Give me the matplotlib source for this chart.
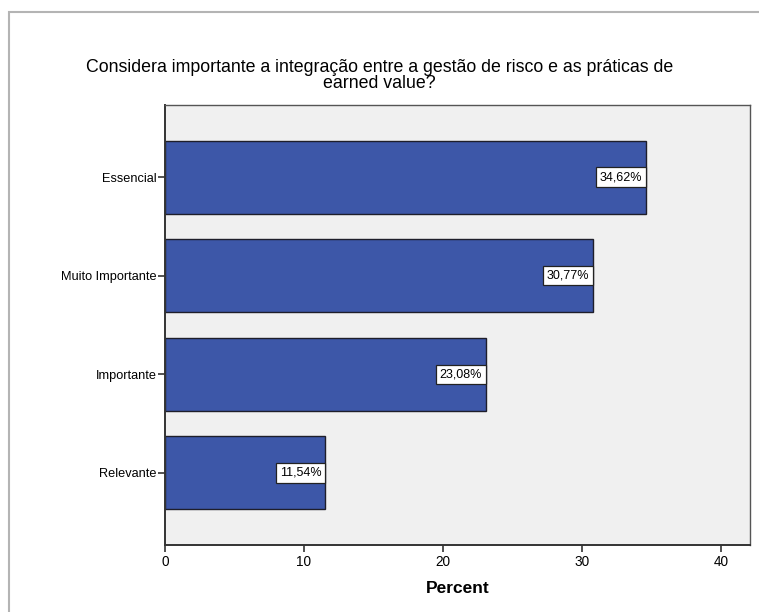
import matplotlib.pyplot as plt
from matplotlib.patches import Rectangle

plt.rcParams['font.family'] = ['Liberation Sans', 'DejaVu Sans']

# Response categories, top to bottom, and their share of answers
categories = ["Essencial", "Muito Importante", "Importante", "Relevante"]
percents = [34.62, 30.77, 23.08, 11.54]
xticks = [0, 10, 20, 30, 40]
title_lines = ["Considera importante a integração entre a gestão de risco e as práticas de",
               "earned value?"]

W, H = 759, 612
fig = plt.figure(figsize=(W / 100, H / 100), dpi=100)

# light gray outer frame
fig.patches.append(Rectangle((9 / W, -0.1), 1.2, 1.1 - 12 / H,
                             transform=fig.transFigure, fill=False,
                             edgecolor="#b4b4b4", linewidth=1.5))

ax = fig.add_axes([165 / W, 1 - 545 / H, (750 - 165) / W, (545 - 105) / H])
ax.set_facecolor("#f0f0f0")

ypos = list(range(len(categories)))[::-1]
ax.barh(ypos, percents, height=0.74, color="#3d57a8",
        edgecolor="#1e1e2a", linewidth=1.0)

for y, v in zip(ypos, percents):
    label = f"{v:.2f}".replace(".", ",") + "%"
    ax.text(v - 0.27, y, label, ha="right", va="center", fontsize=9,
            bbox=dict(boxstyle="square,pad=0.3", facecolor="white",
                      edgecolor="#222222", linewidth=0.9))

ax.set_xlim(0, 42.1)
ax.set_ylim(-0.73, len(categories) - 1 + 0.73)
ax.set_xticks(xticks)
ax.set_yticks(ypos)
ax.set_yticklabels(categories)
ax.tick_params(axis="y", labelsize=9.2, length=5, width=1.2,
               color="#333333", pad=1)
ax.tick_params(axis="x", labelsize=9.8, length=5, width=1.2,
               color="#333333", pad=2)
for side in ["top", "right"]:
    ax.spines[side].set_color("#555555")
    ax.spines[side].set_linewidth(1.0)
for side in ["left", "bottom"]:
    ax.spines[side].set_color("#333333")
    ax.spines[side].set_linewidth(1.4)

ax.set_xlabel("Percent", fontsize=12.5, fontweight="bold", labelpad=9)

# two-line title, each line placed on its own
for i, line in enumerate(title_lines):
    fig.text(0.5, 1 - (68 + 16 * i) / H, line, ha="center", va="center",
             fontsize=12.8)

fig.savefig("out.png", dpi=100)
